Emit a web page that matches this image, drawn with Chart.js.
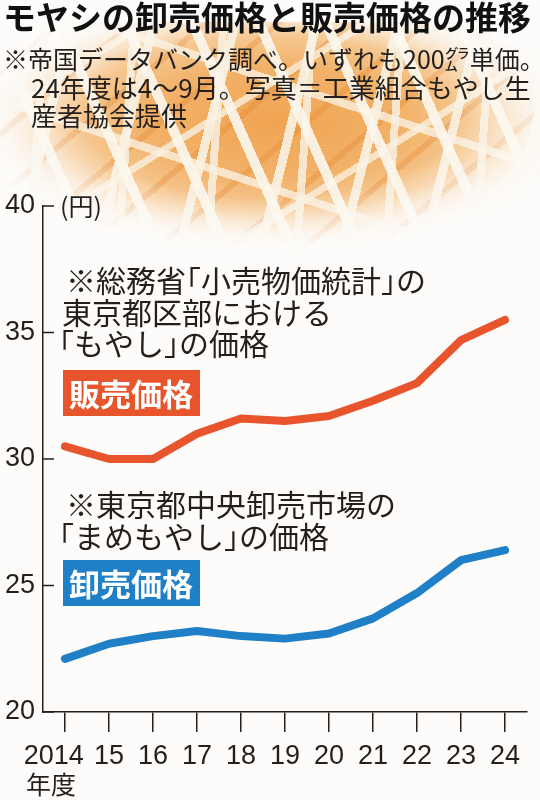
<!DOCTYPE html>
<html lang="ja">
<head>
<meta charset="utf-8">
<script src="https://cdn.jsdelivr.net/npm/chart.js@4.4.1/dist/chart.umd.min.js"></script>
<style>
  html, body { margin: 0; padding: 0; background: #fff; }
  #wrap { position: relative; width: 540px; height: 800px; overflow: hidden; background: #fdfcfa; }
  /* bean sprout photo, approximated with gradients */
  #photo {
    position: absolute; left: 0; top: 22px; width: 540px; height: 240px;
    background:
      repeating-linear-gradient(66deg, rgba(250,244,230,0) 0 24px, rgba(251,246,236,0.92) 24px 34px, rgba(250,244,230,0) 34px 61px),
      repeating-linear-gradient(-76deg, rgba(250,244,230,0) 0 33px, rgba(249,242,228,0.9) 33px 42px, rgba(250,244,230,0) 42px 79px),
      repeating-linear-gradient(94deg, rgba(250,244,230,0) 0 41px, rgba(248,240,224,0.85) 41px 49px, rgba(250,244,230,0) 49px 89px),
      repeating-linear-gradient(18deg, rgba(250,244,230,0) 0 47px, rgba(249,241,226,0.8) 47px 55px, rgba(250,244,230,0) 55px 103px),
      repeating-linear-gradient(-32deg, rgba(250,244,230,0) 0 57px, rgba(250,243,229,0.75) 57px 64px, rgba(250,244,230,0) 64px 117px),
      repeating-linear-gradient(-40deg, rgba(226,128,40,0) 0 19px, rgba(226,128,40,0.3) 19px 25px, rgba(226,128,40,0) 25px 47px),
      radial-gradient(ellipse 290px 125px at 275px 100px, #f0a452 0%, #f2b26a 45%, #f6cb98 72%, rgba(253,252,250,0) 100%);
    -webkit-mask-image: radial-gradient(ellipse 310px 135px at 270px 95px, #000 60%, rgba(0,0,0,0) 100%);
    mask-image: radial-gradient(ellipse 310px 135px at 270px 95px, #000 60%, rgba(0,0,0,0) 100%);
  }
  #chartBox { position: absolute; left: 0; top: 0; width: 540px; height: 800px; }
</style>
</head>
<body>
<div id="wrap">
  <div id="photo"></div>
  <div id="chartBox"><canvas id="moyashiChart" width="540" height="800"></canvas></div>
</div>
<script>
// 年度
const years = ['2014', '15', '16', '17', '18', '19', '20', '21', '22', '23', '24'];
// 販売価格（総務省「小売物価統計」東京都区部「もやし」）円/200g
const retailPrice = [30.5, 30.0, 30.0, 31.0, 31.6, 31.5, 31.7, 32.3, 33.0, 34.7, 35.5];
// 卸売価格（東京都中央卸売市場「まめもやし」）円/200g
const wholesalePrice = [22.1, 22.7, 23.0, 23.2, 23.0, 22.9, 23.1, 23.7, 24.7, 26.0, 26.4];
// 縦軸の目盛り
const yTicks = [20, 25, 30, 35, 40];

const RED = '#e8552c';
const BLUE = '#1f7fc7';
const INK = '#231f1c';
const JP = '"Noto Sans CJK JP", "Noto Sans", sans-serif';
const NUM = '"Liberation Sans", Arimo, sans-serif';

// 括弧・句点を半角幅で詰めて描く
function drawJP(ctx, text, x, y, size) {
    for (const ch of text) {
        const w = ctx.measureText(ch).width;
        if ('「（'.includes(ch)) {
            ctx.fillText(ch, x - size * 0.5, y);
            x += w - size * 0.5;
        } else if ('」。、）'.includes(ch)) {
            ctx.fillText(ch, x, y);
            x += w - size * 0.5;
        } else {
            ctx.fillText(ch, x, y);
            x += w;
        }
    }
}

// 見出し・注記・ラベルを描くプラグイン
const textPlugin = {
    id: 'texts',
    afterDraw(chart) {
        const ctx = chart.ctx;
        const yScale = chart.scales.y;
        const left = chart.chartArea.left;
        ctx.save();
        ctx.textBaseline = 'middle';
        ctx.textAlign = 'left';

        // タイトル
        ctx.fillStyle = '#111';
        ctx.font = 'bold 33px ' + JP;
        ctx.fillText('モヤシの卸売価格と販売価格の推移', 3, 17);

        // 出典
        ctx.fillStyle = INK;
        ctx.font = '25px ' + JP;
        ctx.fillText('※帝国データバンク調べ。いずれも200㌘単価。', 3, 59);
        ctx.font = '26px ' + JP;
        ctx.fillText('24年度は4〜9月。写真＝工業組合もやし生', 31, 88);
        ctx.fillText('産者協会提供', 31, 116);

        // 単位
        ctx.font = '25px ' + JP;
        ctx.fillText('(円)', 60, yScale.getPixelForValue(40));

        // 縦軸の目盛り線（内側）
        ctx.strokeStyle = INK;
        ctx.lineWidth = 1.5;
        yTicks.forEach(v => {
            const y = yScale.getPixelForValue(v);
            ctx.beginPath();
            ctx.moveTo(left, y);
            ctx.lineTo(left + 11, y);
            ctx.stroke();
        });

        // 販売価格の注記
        ctx.fillStyle = INK;
        ctx.font = '30px ' + JP;
        drawJP(ctx, '※総務省「小売物価統計」の', 66, 281, 30);
        drawJP(ctx, '東京都区部における', 62, 313, 30);
        drawJP(ctx, '「もやし」の価格', 59, 344, 30);
        ctx.fillStyle = RED;
        ctx.fillRect(63, 370, 137, 46);
        ctx.fillStyle = '#fff';
        ctx.font = 'bold 31px ' + JP;
        ctx.fillText('販売価格', 69, 394);

        // 卸売価格の注記
        ctx.fillStyle = INK;
        ctx.font = '30px ' + JP;
        drawJP(ctx, '※東京都中央卸売市場の', 66, 505, 30);
        drawJP(ctx, '「まめもやし」の価格', 59, 537, 30);
        ctx.fillStyle = BLUE;
        ctx.fillRect(63, 560, 137, 46);
        ctx.fillStyle = '#fff';
        ctx.font = 'bold 31px ' + JP;
        ctx.fillText('卸売価格', 69, 584);

        // 年度
        ctx.fillStyle = INK;
        ctx.font = '25px ' + JP;
        ctx.fillText('年度', 26, 784);
        ctx.restore();
    }
};

const canvas = document.getElementById('moyashiChart');
new Chart(canvas.getContext('2d'), {
    type: 'line',
    data: {
        labels: years,
        datasets: [
            {
                label: '販売価格',
                data: retailPrice,
                borderColor: RED,
                borderWidth: 8,
                borderCapStyle: 'round',
                borderJoinStyle: 'round',
                pointRadius: 0,
                tension: 0,
                fill: false
            },
            {
                label: '卸売価格',
                data: wholesalePrice,
                borderColor: BLUE,
                borderWidth: 8,
                borderCapStyle: 'round',
                borderJoinStyle: 'round',
                pointRadius: 0,
                tension: 0,
                fill: false
            }
        ]
    },
    options: {
        responsive: false,
        animation: false,
        events: [],
        layout: { padding: { left: 0, right: 13, top: 206, bottom: 0 } },
        plugins: {
            legend: { display: false },
            tooltip: { enabled: false },
            title: { display: false }
        },
        scales: {
            x: {
                type: 'category',
                offset: true,
                afterFit(scale) { scale.height = 88; },
                border: { display: true, color: INK, width: 1.5 },
                grid: {
                    offset: false,
                    drawOnChartArea: false,
                    drawTicks: true,
                    tickLength: 20,
                    color: INK,
                    lineWidth: 1.5
                },
                ticks: {
                    color: INK,
                    maxRotation: 0,
                    autoSkip: false,
                    padding: 8,
                    font: { family: NUM, size: 27 },
                    // 先頭の「2014」は左に寄せる
                    callback(value, index) {
                        const label = this.getLabelForValue(value);
                        return index === 0 ? label + '   ' : label;
                    }
                }
            },
            y: {
                min: 20,
                max: 40,
                afterFit(scale) { scale.width = 43; },
                afterBuildTicks(scale) { scale.ticks = yTicks.map(v => ({ value: v })); },
                border: { display: true, color: INK, width: 1.5 },
                grid: { drawOnChartArea: false, drawTicks: false },
                ticks: {
                    color: INK,
                    padding: 8,
                    font: { family: NUM, size: 27 }
                }
            }
        }
    },
    plugins: [textPlugin]
});
</script>
</body>
</html>
